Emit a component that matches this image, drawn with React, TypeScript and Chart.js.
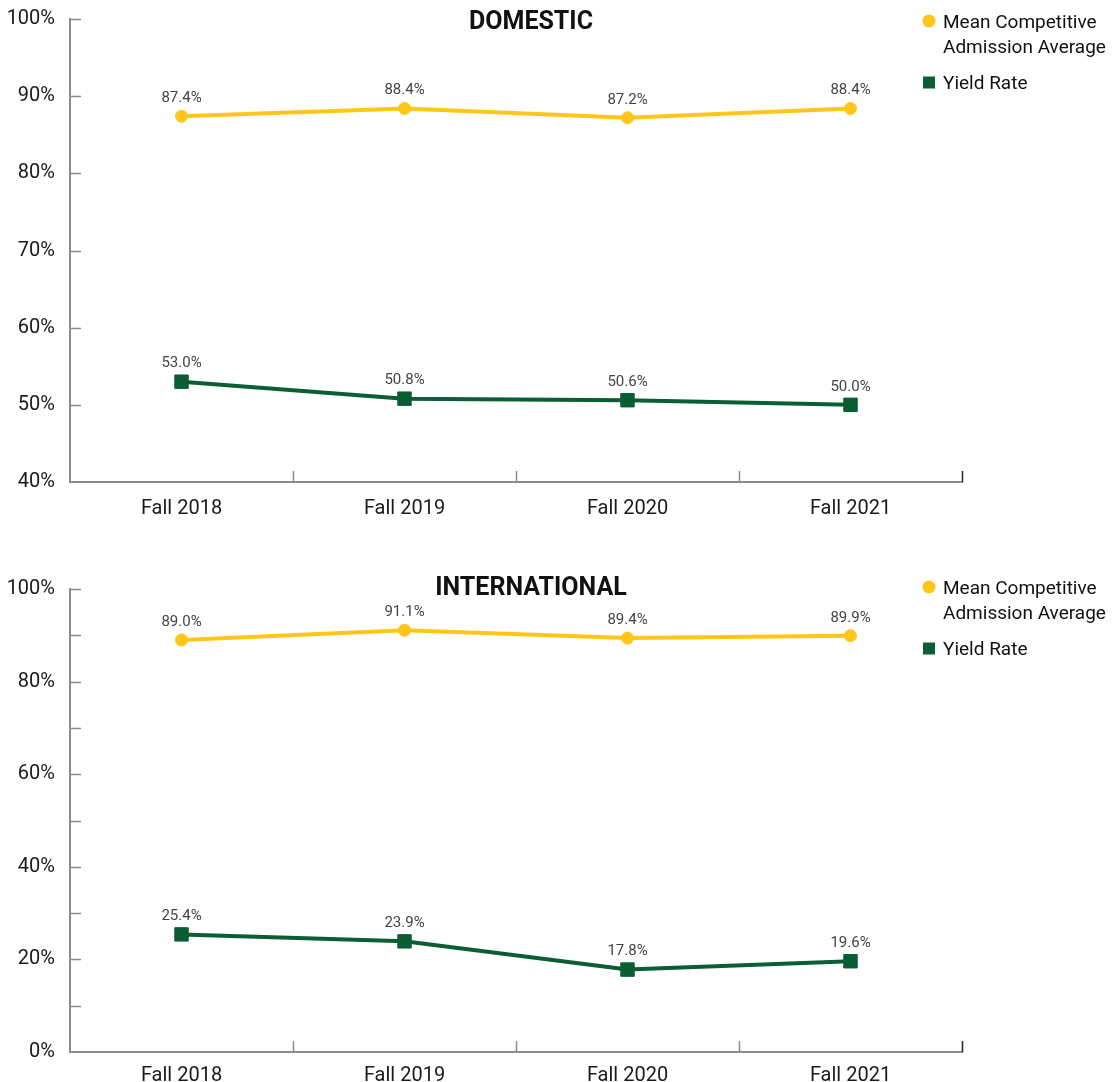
import React, { useEffect, useRef } from 'react';
import { Chart, registerables } from 'chart.js';

Chart.register(...registerables);

const categories = ['Fall 2018', 'Fall 2019', 'Fall 2020', 'Fall 2021'];
const domesticMcaa = [87.4, 88.4, 87.2, 88.4];
const domesticYield = [53.0, 50.8, 50.6, 50.0];
const intlMcaa = [89.0, 91.1, 89.4, 89.9];
const intlYield = [25.4, 23.9, 17.8, 19.6];
const seriesNames = ['Mean Competitive Admission Average', 'Yield Rate'];
const legendLines = [['Mean Competitive', 'Admission Average'], ['Yield Rate']];
const titles = ['DOMESTIC', 'INTERNATIONAL'];

const YELLOW = '#FFC61A';
const GREEN = '#0B5E34';
const AXIS = '#8c8c8c';
const FONT = 'Roboto';

type PanelProps = {
  title: string;
  mcaa: number[];
  yld: number[];
  yMin: number;
  yMax: number;
  step: number;
  labelEvery: number;
  height: number;
  topPad: number;
  headerY: number;
  xPad: number;
};

const overlayPlugin = {
  id: 'overlay',
  afterDraw(chart: any, _args: any, opts: any) {
    const { ctx, chartArea, scales } = chart;
    const x = scales.x;
    const y = scales.y;
    ctx.save();
    // y tick marks (inside)
    ctx.lineWidth = 1.5;
    ctx.strokeStyle = AXIS;
    y.ticks.forEach((_t: any, i: number) => {
      if (i === 0) return;
      const py = Math.round(y.getPixelForTick(i)) + 0.5;
      ctx.beginPath();
      ctx.moveTo(chartArea.left, py);
      ctx.lineTo(chartArea.left + 11, py);
      ctx.stroke();
    });
    // x boundary tick marks (inside)
    const n = categories.length;
    for (let i = 1; i <= n; i++) {
      const px = i < n ? (x.getPixelForValue(i - 1) + x.getPixelForValue(i)) / 2 : chartArea.right;
      ctx.strokeStyle = i < n ? AXIS : '#222';
      ctx.beginPath();
      ctx.moveTo(Math.round(px) + 0.5, chartArea.bottom);
      ctx.lineTo(Math.round(px) + 0.5, chartArea.bottom - 11);
      ctx.stroke();
    }
    // data labels
    ctx.font = `15px ${FONT}`;
    ctx.fillStyle = '#444';
    ctx.textAlign = 'center';
    ctx.textBaseline = 'middle';
    chart.data.datasets.forEach((ds: any, di: number) => {
      const meta = chart.getDatasetMeta(di);
      meta.data.forEach((pt: any, j: number) => {
        ctx.fillText(ds.data[j].toFixed(1) + '%', pt.x, pt.y - 18);
      });
    });
    // title
    ctx.font = `bold 25px ${FONT}`;
    ctx.fillStyle = '#111';
    ctx.fillText(opts.title, (chartArea.left + chartArea.right) / 2 + 15, opts.headerY + 1.5);
    // legend
    const mx = chartArea.right - 33;
    const tx = mx + 14;
    const hy = opts.headerY;
    ctx.textAlign = 'left';
    ctx.font = `19px ${FONT}`;
    ctx.beginPath();
    ctx.fillStyle = YELLOW;
    ctx.arc(mx, hy - 0.5, 6.5, 0, Math.PI * 2);
    ctx.fill();
    ctx.fillStyle = '#111';
    legendLines[0].forEach((l, k) => ctx.fillText(l, tx, hy + 2 + k * 25));
    ctx.fillStyle = GREEN;
    ctx.fillRect(mx - 6, hy + 61 - 6, 12, 12);
    ctx.fillStyle = '#111';
    legendLines[1].forEach((l, k) => ctx.fillText(l, tx, hy + 63 + k * 25));
    ctx.restore();
  },
};

function Panel(p: PanelProps) {
  const ref = useRef<HTMLCanvasElement | null>(null);
  useEffect(() => {
    if (!ref.current) return;
    const chart = new Chart(ref.current, {
      type: 'line',
      data: {
        labels: categories,
        datasets: [
          {
            label: seriesNames[0],
            data: p.mcaa,
            borderColor: YELLOW,
            backgroundColor: YELLOW,
            borderWidth: 4,
            pointStyle: 'circle',
            pointRadius: 6,
            pointBorderWidth: 1,
            tension: 0,
          },
          {
            label: seriesNames[1],
            data: p.yld,
            borderColor: GREEN,
            backgroundColor: GREEN,
            borderWidth: 4,
            pointStyle: 'rect',
            pointRadius: 9.5,
            pointBorderWidth: 1,
            tension: 0,
          },
        ],
      },
      options: {
        animation: false,
        responsive: true,
        maintainAspectRatio: false,
        layout: { padding: { top: p.topPad, right: 149, left: 0, bottom: 0 } },
        plugins: {
          legend: { display: false },
          tooltip: { enabled: false },
          overlay: { title: p.title, headerY: p.headerY },
        } as any,
        scales: {
          x: {
            offset: true,
            grid: { display: false, drawTicks: false },
            border: { color: AXIS, width: 2 },
            ticks: { font: { family: FONT, size: 20 }, color: '#1a1a1a', padding: p.xPad },
            afterFit: (s: any) => {
              s.height = p.height - p.topPad - 463;
              s.paddingLeft = 0;
              s.paddingRight = 0;
            },
          },
          y: {
            min: p.yMin,
            max: p.yMax,
            grid: { display: false, drawTicks: false },
            border: { color: AXIS, width: 2 },
            ticks: {
              stepSize: p.step,
              padding: 15,
              font: { family: FONT, size: 20 },
              color: '#1a1a1a',
              callback: (v: any) => (Number(v) % p.labelEvery === 0 ? v + '%' : ''),
            },
            afterFit: (s: any) => {
              s.width = 62;
              s.paddingTop = 0;
              s.paddingBottom = 0;
            },
          },
        },
      },
      plugins: [overlayPlugin],
    });
    return () => chart.destroy();
  }, []);
  return <canvas ref={ref} />;
}

export default function App() {
  return (
    <div style={{ position: 'fixed', left: 0, top: 0, width: '100vw', height: '100vh', overflow: 'hidden', background: '#fff' }}>
      <div style={{ position: 'absolute', left: 8, top: 0, width: 1103, height: 560 }}>
        <Panel title={titles[0]} mcaa={domesticMcaa} yld={domesticYield} yMin={40} yMax={100} step={10} labelEvery={10} height={560} topPad={19} headerY={21.5} xPad={15} />
      </div>
      <div style={{ position: 'absolute', left: 8, top: 560, width: 1103, height: 522 }}>
        <Panel title={titles[1]} mcaa={intlMcaa} yld={intlYield} yMin={0} yMax={100} step={10} labelEvery={20} height={522} topPad={29} headerY={27.5} xPad={12} />
      </div>
    </div>
  );
}
